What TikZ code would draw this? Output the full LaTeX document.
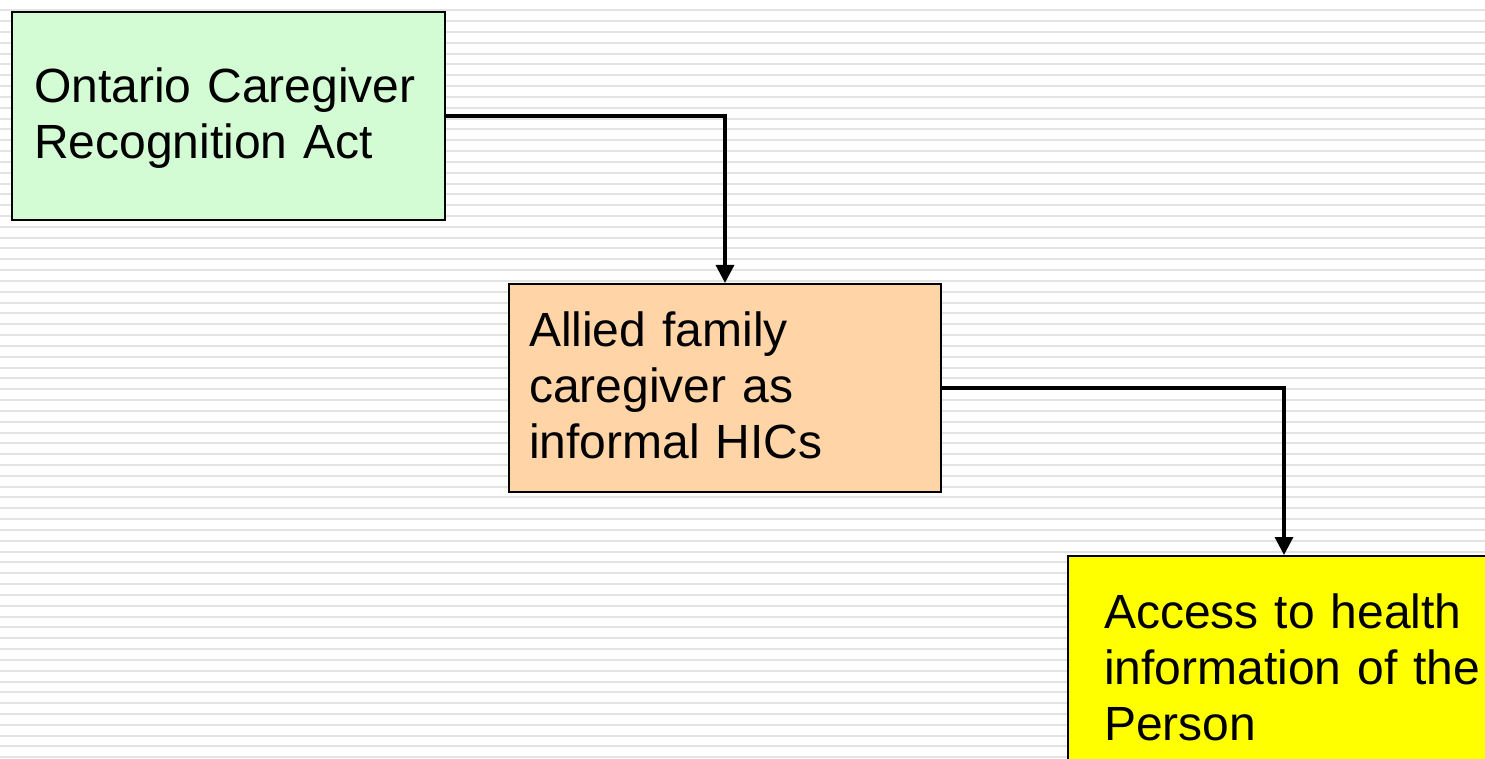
\documentclass[tikz,border=0pt]{standalone}
\usepackage{fontspec}
\setmainfont{Liberation Sans}
\usetikzlibrary{arrows.meta}
\definecolor{actgreen}{RGB}{212,252,212}
\definecolor{alliedpeach}{RGB}{255,213,168}
\definecolor{accessyellow}{RGB}{255,255,0}
\definecolor{stripegray}{RGB}{227,227,227}
\newcommand{\lnstrut}{\rule[-6.6pt]{0pt}{28pt}}
\tikzset{box/.style={draw=black, line width=1pt, rectangle, anchor=north west,
    align=left, inner ysep=0pt, minimum height=104pt,
    font=\fontsize{24}{28}\selectfont,
    execute at begin node=\lnstrut, execute at end node=\lnstrut},
  link/.style={line width=1.6pt, -{Triangle[length=9pt,width=9pt]}}}

\begin{document}
\begin{tikzpicture}[x=0.5pt, y=-0.5pt]
          \useasboundingbox (0,0) rectangle (1485,759);
          \clip (0,0) rectangle (1485,759);
          \fill[white] (0,0) rectangle (1485,759);
          \foreach \k in {-1,...,69} {
            \fill[stripegray] (0,{9.3+\k*10.826}) rectangle (1485,{11.3+\k*10.826});
          }

          \node at (11, 11) [box, fill=actgreen, inner xsep=11pt, text width=194.5pt]
            (ontario) {Ontario Caregiver\\Recognition Act};
          \node at (508, 283) [box, fill=alliedpeach, inner xsep=10pt, text width=196pt]
            (allied) {Allied family\\caregiver as\\informal HICs};
          \node at (1067, 555) [box, fill=accessyellow, inner xsep=18pt, text width=196pt,
            minimum height=114pt] (access) {Access to health\\information of the\\Person};

          \draw[link] (ontario.east) -| (allied.north);
          \draw[link] (allied.east) -| ([xshift=108.5pt]access.north west);
        \end{tikzpicture}
\end{document}
